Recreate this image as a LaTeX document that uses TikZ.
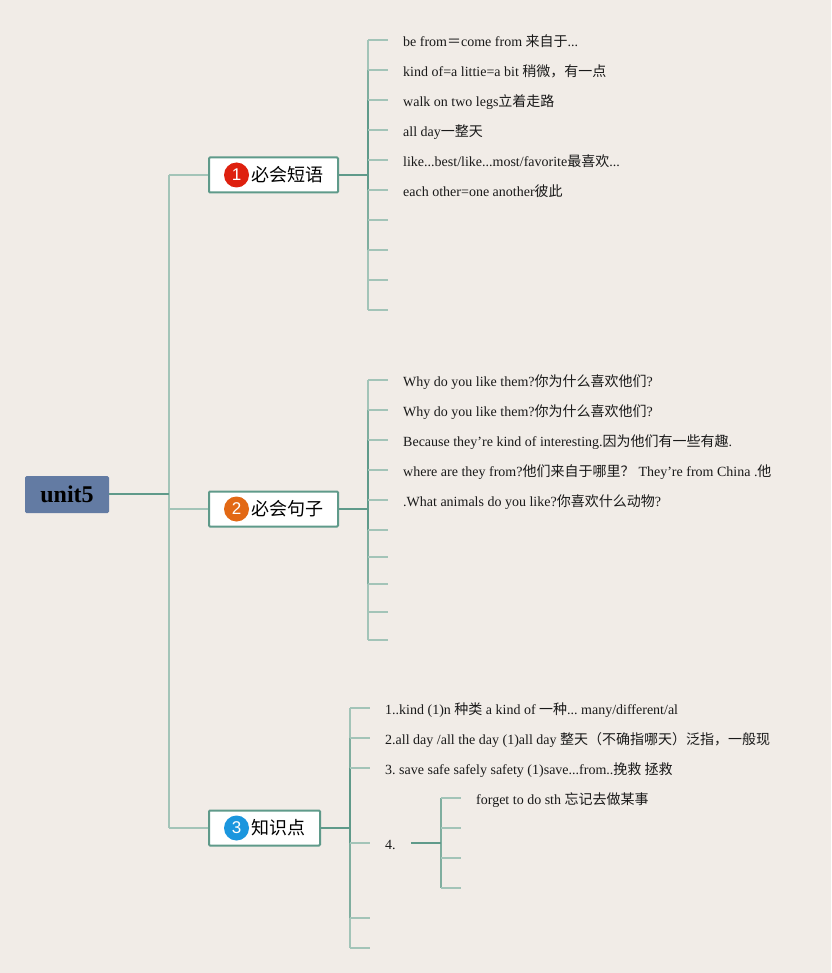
\documentclass[tikz,border=0pt]{standalone}
\usepackage{fontspec}
\setmainfont{Liberation Serif}
\setsansfont{Liberation Sans}
\newfontfamily\cjkf{Noto Sans CJK SC}
\newcommand\zh[1]{{\cjkf #1}}
\frenchspacing
\definecolor{bgc}{HTML}{F1ECE7}
\definecolor{lnA}{HTML}{5F9A8A}
\definecolor{lnB}{HTML}{7FAE9F}
\definecolor{lnC}{HTML}{A3C4B8}
\definecolor{rootc}{HTML}{637BA3}
\tikzset{
  rootbox/.style={fill=rootc,rounded corners=1.5pt,minimum width=84pt,minimum height=37pt,inner sep=0pt,font=\fontsize{24}{28}\selectfont\bfseries},
  topic/.style={draw=lnA,fill=white,line width=2pt,rounded corners=1pt,minimum height=35pt,inner sep=0pt,font=\fontsize{18}{22}\selectfont\cjkf},
  badge/.style={circle,minimum size=25pt,inner sep=0pt,text=white,font=\fontsize{17}{20}\selectfont\sffamily},
  leaf/.style={anchor=west,inner xsep=15pt,inner ysep=0pt,text height=15pt,text depth=2pt,text=black!90,font=\fontsize{14}{17}\selectfont},
  main/.style={draw=lnA,line width=2pt},
  stub/.style={draw=lnC,line width=2pt},
  vA/.style={draw=lnA,line width=2pt},
  vB/.style={draw=lnB,line width=2pt},
  vC/.style={draw=lnC,line width=2pt}
}
\newcommand\branch[3]{\draw[#3] (#1) -- (#1 |- #2); \draw[stub] (#1 |- #2) -- (#2);}
\begin{document}
\begin{tikzpicture}[x=1pt,y=-1pt]
\useasboundingbox (0,0) rectangle (831,973);
\fill[bgc] (0,0) rectangle (831,973);
% nodes
\node[rootbox] (root) at (67,494.5) {unit5};
\node[topic,minimum width=129pt] (t1) at (273.5,175) {\hspace*{27pt}\raisebox{-1pt}{必会短语}};
\node[topic,minimum width=129pt] (t2) at (273.5,509) {\hspace*{27pt}\raisebox{-1pt}{必会句子}};
\node[topic,minimum width=111pt] (t3) at (264.5,828) {\hspace*{27pt}\raisebox{-1pt}{知识点}};
\node[badge,fill={rgb,255:red,222;green,32;blue,14}] (b1) at (236.5,175) {1};
\node[badge,fill={rgb,255:red,226;green,104;blue,20}] (b2) at (236.5,509) {2};
\node[badge,fill={rgb,255:red,27;green,150;blue,222}] (b3) at (236.5,828) {3};
% trunk
\coordinate (tr) at (169,494);
\branch{tr}{t3.west}{vC}
\branch{tr}{t1.west}{vC}
\draw[stub] (tr |- t2.west) -- (t2.west);
\draw[main] (root.east |- tr) -- (tr);
% group 1
\coordinate (s1) at (368,175);
\node[leaf] (a1) at (388,40) {be from\zh{＝}come from \zh{来自于}...};
\node[leaf] (a2) at (388,70) {kind of=a littie=a bit \zh{稍微，有一点}};
\node[leaf] (a3) at (388,100) {walk on two legs\zh{立着走路}};
\node[leaf] (a4) at (388,130) {all day\zh{一整天}};
\node[leaf] (a5) at (388,160) {like...best/like...most/favorite\zh{最喜欢}...};
\node[leaf] (a6) at (388,190) {each other=one another\zh{彼此}};
\coordinate (a7) at (388,220);
\coordinate (a8) at (388,250);
\coordinate (a9) at (388,280);
\coordinate (a10) at (388,310);
\branch{s1}{a10}{vC}
\branch{s1}{a9}{vC}
\branch{s1}{a8}{vB}
\branch{s1}{a7}{vB}
\branch{s1}{a1.west}{vC}
\branch{s1}{a2.west}{vB}
\branch{s1}{a3.west}{vA}
\branch{s1}{a4.west}{vA}
\branch{s1}{a5.west}{vA}
\branch{s1}{a6.west}{vA}
\draw[main] (t1.east) -- (s1);
% group 2
\coordinate (s2) at (368,509);
\node[leaf] (c1) at (388,380) {Why do you like them?\zh{你为什么喜欢他们}?};
\node[leaf] (c2) at (388,410) {Why do you like them?\zh{你为什么喜欢他们}?};
\node[leaf] (c3) at (388,440) {Because they’re kind of interesting.\zh{因为他们有一些有趣}.};
\node[leaf] (c4) at (388,470) {where are they from?\zh{他们来自于哪里？}\hspace{4pt}They’re from China .\zh{他}};
\node[leaf] (c5) at (388,500) {.What animals do you like?\zh{你喜欢什么动物}?};
\coordinate (c6) at (388,530);
\coordinate (c7) at (388,557);
\coordinate (c8) at (388,584);
\coordinate (c9) at (388,612);
\coordinate (c10) at (388,640);
\branch{s2}{c10}{vC}
\branch{s2}{c9}{vC}
\branch{s2}{c8}{vB}
\branch{s2}{c7}{vB}
\branch{s2}{c6}{vA}
\branch{s2}{c1.west}{vC}
\branch{s2}{c2.west}{vB}
\branch{s2}{c3.west}{vA}
\branch{s2}{c4.west}{vA}
\branch{s2}{c5.west}{vA}
\draw[main] (t2.east) -- (s2);
% group 3
\coordinate (s3) at (350,828);
\node[leaf] (d1) at (370,708) {1..kind (1)n \zh{种类} a kind of \zh{一种}... many/different/al};
\node[leaf] (d2) at (370,738) {2.all day /all the day (1)all day \zh{整天（不确指哪天）泛指，一般现}};
\node[leaf] (d3) at (370,768) {3. save safe safely safety (1)save...from..\zh{挽救 拯救}};
\node[leaf] (d4) at (370,843) {4.};
\coordinate (d5) at (370,918);
\coordinate (d6) at (370,948);
\branch{s3}{d6}{vC}
\branch{s3}{d5}{vB}
\branch{s3}{d1.west}{vC}
\branch{s3}{d2.west}{vB}
\branch{s3}{d3.west}{vA}
\branch{s3}{d4.west}{vA}
\draw[main] (t3.east) -- (s3);
% sub group
\coordinate (s4) at (441,843);
\coordinate (e0) at (411,843);
\node[leaf] (e1) at (461,798) {forget to do sth \zh{忘记去做某事}};
\coordinate (e2) at (461,828);
\coordinate (e3) at (461,858);
\coordinate (e4) at (461,888);
\branch{s4}{e4}{vB}
\branch{s4}{e3}{vB}
\branch{s4}{e1.west}{vB}
\branch{s4}{e2}{vB}
\draw[main] (e0) -- (s4);
\end{tikzpicture}
\end{document}
